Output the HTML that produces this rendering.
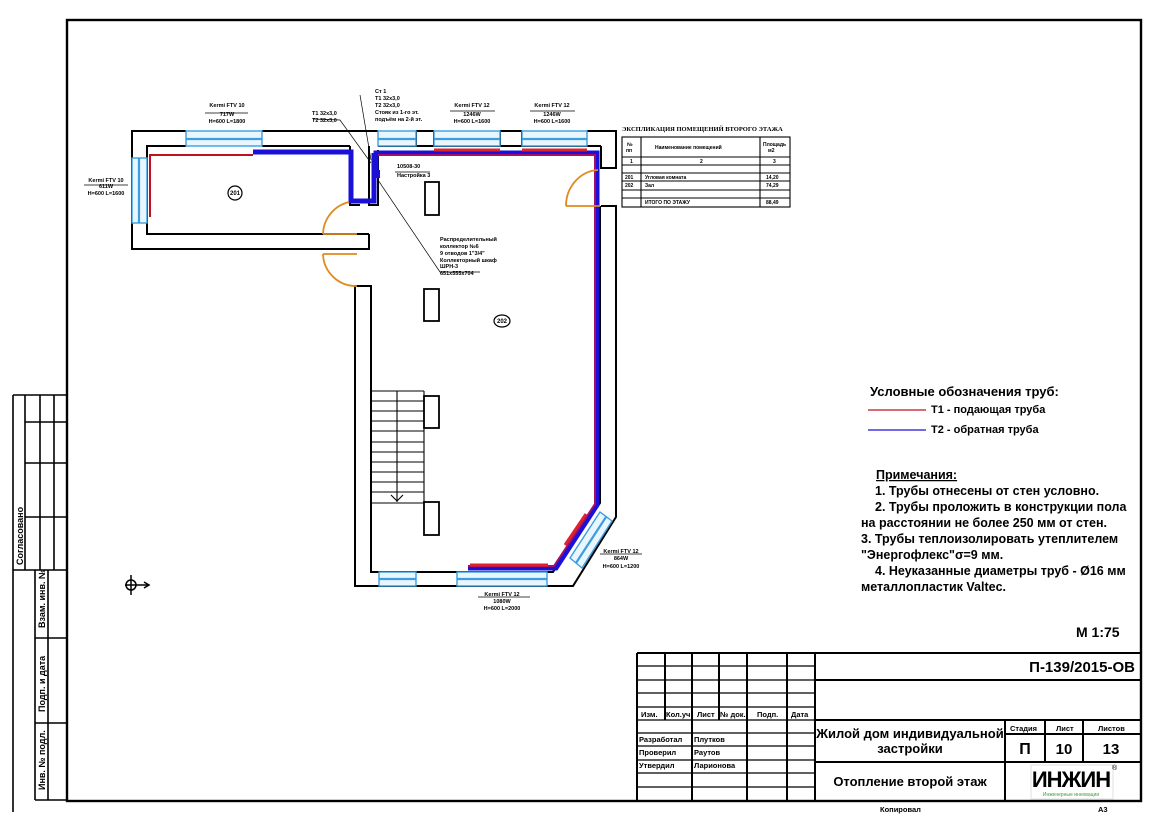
<!DOCTYPE html>
<html><head><meta charset="utf-8"><style>
html,body{margin:0;padding:0;background:#fff}
svg{display:block}
text{font-family:"Liberation Sans","Noto Sans CJK SC",sans-serif;fill:#000}
</style></head><body>
<svg width="1166" height="824" viewBox="0 0 1166 824" xmlns="http://www.w3.org/2000/svg">
<rect width="1166" height="824" fill="#fff"/>
<rect x="67" y="20" width="1074" height="781" fill="none" stroke="#000" stroke-width="2.4"/>
<g stroke="#000" stroke-width="1.6" fill="none">
<line x1="13" y1="395" x2="13" y2="812"/>
<line x1="13" y1="395" x2="67" y2="395"/>
<line x1="25" y1="395" x2="25" y2="570"/>
<line x1="40" y1="395" x2="40" y2="570"/>
<line x1="54" y1="395" x2="54" y2="570"/>
<line x1="25" y1="422" x2="67" y2="422"/>
<line x1="25" y1="463" x2="67" y2="463"/>
<line x1="25" y1="517" x2="67" y2="517"/>
<line x1="13" y1="570" x2="67" y2="570"/>
<line x1="35" y1="570" x2="35" y2="800"/>
<line x1="48" y1="570" x2="48" y2="800"/>
<line x1="35" y1="638" x2="67" y2="638"/>
<line x1="35" y1="723" x2="67" y2="723"/>
<line x1="35" y1="800" x2="67" y2="800"/>
</g>
<g font-size="9" font-weight="bold">
<text transform="translate(23,565) rotate(-90)">Согласовано</text>
<text transform="translate(45,628) rotate(-90)">Взам. инв. №</text>
<text transform="translate(45,712) rotate(-90)">Подп. и дата</text>
<text transform="translate(45,790) rotate(-90)">Инв. № подл.</text>
</g>

<g fill="none" stroke="#000" stroke-width="2">
<polyline points="186,131 132,131 132,249 357,249"/>
<polyline points="186,146 147,146 147,234 357,234"/>
<line x1="262" y1="131" x2="378" y2="131"/>
<line x1="262" y1="146" x2="350" y2="146"/>
<polyline points="350,146 350,205 360,205"/>
<line x1="357" y1="234" x2="369" y2="234"/>
<polyline points="357,249 369,249 369,234"/>
<polyline points="369,146 369,205 378,205 378,150"/>
<line x1="416" y1="131" x2="434" y2="131"/>
<line x1="500" y1="131" x2="522" y2="131"/>
<polyline points="587,131 616,131 616,168 600,168"/>
<line x1="378" y1="146" x2="601" y2="146"/>
<polyline points="601,146 601,168"/>
<line x1="416" y1="131" x2="416" y2="146"/><line x1="434" y1="131" x2="434" y2="146"/>
<line x1="500" y1="131" x2="500" y2="146"/><line x1="522" y1="131" x2="522" y2="146"/>
<polyline points="601,206 616,206 616,517 573,586 355,586 355,286 371,286 371,572 553,572 600,503 600,206"/>
</g>
<g fill="#eaf6fd" stroke="#3a9ee0" stroke-width="1.4">
<rect x="186" y="131" width="76" height="15"/>
<rect x="132" y="158" width="15" height="65"/>
<rect x="378" y="131" width="38" height="15"/>
<rect x="434" y="131" width="66" height="15"/>
<rect x="522" y="131" width="65" height="15"/>
<rect x="379" y="572" width="37" height="14"/>
<rect x="457" y="572" width="90" height="14"/>
<polygon points="570,558 600,512 612,521 582,568"/>
</g>
<g stroke="#3a9ee0" stroke-width="2.2">
<line x1="186" y1="139" x2="262" y2="139"/><line x1="139" y1="158" x2="139" y2="223"/>
<line x1="378" y1="139" x2="416" y2="139"/><line x1="434" y1="139" x2="500" y2="139"/>
<line x1="522" y1="139" x2="587" y2="139"/><line x1="379" y1="579" x2="416" y2="579"/>
<line x1="457" y1="579" x2="547" y2="579"/><line x1="576" y1="563" x2="606" y2="517"/>
</g>
<g fill="none" stroke-linejoin="miter">
<polyline points="253,152 351,152 351,201 374,201 374,153" stroke="#1a10d8" stroke-width="5"/>
<polyline points="150,217 150,155 253,155" stroke="#c01020" stroke-width="2"/>
<polyline points="376,175 376,153 597,153 597,505 556,568 468,568" stroke="#1a10d8" stroke-width="5"/>
<polyline points="378,155 595,155 595,504 554,566 468,566" stroke="#a0106a" stroke-width="2"/>
<g stroke="#e0202c" stroke-width="3">
<line x1="434" y1="150" x2="500" y2="150"/><line x1="522" y1="150" x2="587" y2="150"/>
<line x1="470" y1="565" x2="548" y2="565"/><line x1="565" y1="545" x2="586" y2="514"/>
</g>
<rect x="372" y="170" width="8" height="8" fill="#1a10d8"/>
</g>
<g fill="none" stroke="#e08a20" stroke-width="1.8">
<path d="M349,202 A34,34 0 0 0 323,234"/>
<line x1="323" y1="234" x2="357" y2="234"/>
<line x1="323" y1="254" x2="357" y2="254"/>
<path d="M323,254 A33,33 0 0 0 357,286"/>
<path d="M598,170 A34,36 0 0 0 566,206"/>
<line x1="566" y1="206" x2="600" y2="206"/>
</g>
<g fill="#fff" stroke="#000" stroke-width="1.8">
<rect x="425" y="182" width="14" height="33"/>
<rect x="424" y="289" width="15" height="32"/>
<rect x="424" y="396" width="15" height="32"/>
<rect x="424" y="502" width="15" height="33"/>
</g>
<g stroke="#000" stroke-width="1.1">
<line x1="371" y1="391" x2="424" y2="391"/><line x1="371" y1="401" x2="424" y2="401"/>
<line x1="371" y1="411" x2="424" y2="411"/><line x1="371" y1="421" x2="424" y2="421"/>
<line x1="371" y1="431" x2="424" y2="431"/><line x1="371" y1="442" x2="424" y2="442"/>
<line x1="371" y1="452" x2="424" y2="452"/><line x1="371" y1="462" x2="424" y2="462"/>
<line x1="371" y1="472" x2="424" y2="472"/><line x1="371" y1="482" x2="424" y2="482"/>
<line x1="371" y1="492" x2="424" y2="492"/><line x1="371" y1="503" x2="424" y2="503"/>
<line x1="397" y1="391" x2="397" y2="502"/><line x1="424" y1="391" x2="424" y2="503"/>
<polyline points="391,495 397,501 403,495" fill="none"/>
</g>
<g fill="#fff" stroke="#000" stroke-width="1.2"><circle cx="235" cy="193" r="7"/><ellipse cx="502" cy="321" rx="8" ry="6"/></g>
<g font-size="6" text-anchor="middle" font-weight="bold"><text x="235" y="195">201</text><text x="502" y="323">202</text></g>
<g stroke="#000" stroke-width="0.7" fill="none">
<polyline points="313,119 340,120 371,163"/><polyline points="360,95 371,160"/>
<polyline points="378,180 440,272 480,272"/>
<line x1="395" y1="172" x2="430" y2="172"/>
<line x1="205" y1="113" x2="248" y2="113"/><line x1="84" y1="185" x2="128" y2="185"/>
<line x1="450" y1="111" x2="495" y2="111"/><line x1="530" y1="111" x2="575" y2="111"/>
<line x1="478" y1="597" x2="530" y2="597"/><line x1="600" y1="554" x2="642" y2="554"/>
</g>
<g font-size="5.5" font-weight="bold" text-anchor="middle">
<text x="227" y="107">Kermi FTV 10</text><text x="227" y="116">717W</text><text x="227" y="123">H=600 L=1800</text>
<text x="106" y="182">Kermi FTV 10</text><text x="106" y="188">611W</text><text x="106" y="195">H=600 L=1600</text>
<text x="472" y="107">Kermi FTV 12</text><text x="472" y="116">1246W</text><text x="472" y="123">H=600 L=1600</text>
<text x="552" y="107">Kermi FTV 12</text><text x="552" y="116">1246W</text><text x="552" y="123">H=600 L=1600</text>
<text x="502" y="596">Kermi FTV 12</text><text x="502" y="603">1080W</text><text x="502" y="610">H=600 L=2000</text>
<text x="621" y="553">Kermi FTV 12</text><text x="621" y="560">864W</text><text x="621" y="568">H=600 L=1200</text>
</g>
<g font-size="5.5" font-weight="bold">
<text x="312" y="115">Т1 32х3,0</text><text x="312" y="122">Т2 32х3,0</text>
<text x="375" y="93">Ст 1</text><text x="375" y="100">Т1 32х3,0</text><text x="375" y="107">Т2 32х3,0</text>
<text x="375" y="114">Стояк из 1-го эт.</text><text x="375" y="121">подъём на 2-й эт.</text>
<text x="397" y="168">10508-30</text><text x="397" y="177">Настройка 3</text>
<text x="440" y="241">Распределительный</text><text x="440" y="248">коллектор №6</text>
<text x="440" y="255">9 отводов 1"3/4"</text><text x="440" y="262">Коллекторный шкаф</text>
<text x="440" y="268">ШРН-3</text><text x="440" y="275">651х555х704</text>
</g>
<g stroke="#000" stroke-width="1.5" fill="none"><circle cx="131" cy="585" r="5"/><line x1="131" y1="575" x2="131" y2="595"/><line x1="125" y1="585" x2="149" y2="585"/><polyline points="144,582 149,585 144,588"/></g>

<text x="622" y="131" font-size="6.5" font-weight="bold" style="font-family:'Liberation Serif',serif">ЭКСПЛИКАЦИЯ ПОМЕЩЕНИЙ ВТОРОГО ЭТАЖА</text>
<g stroke="#000" stroke-width="1.1" fill="none">
<rect x="622" y="137" width="168" height="70"/>
<line x1="622" y1="157" x2="790" y2="157"/><line x1="622" y1="165" x2="790" y2="165"/>
<line x1="622" y1="173" x2="790" y2="173"/><line x1="622" y1="181" x2="790" y2="181"/>
<line x1="622" y1="190" x2="790" y2="190"/><line x1="622" y1="198" x2="790" y2="198"/>
<line x1="641" y1="137" x2="641" y2="207"/><line x1="760" y1="137" x2="760" y2="207"/>
</g>
<g font-size="5" font-weight="bold" style="font-family:'Liberation Serif',serif">
<text x="627" y="146">№</text><text x="626" y="152">пп</text><text x="655" y="149">Наименование помещений</text>
<text x="763" y="146">Площадь</text><text x="768" y="152">м2</text>
<text x="630" y="163">1</text><text x="700" y="163">2</text><text x="773" y="163">3</text>
<text x="625" y="179">201</text><text x="645" y="179">Угловая комната</text><text x="766" y="179">14,20</text>
<text x="625" y="187">202</text><text x="645" y="187">Зал</text><text x="766" y="187">74,29</text>
<text x="645" y="204">ИТОГО ПО ЭТАЖУ</text><text x="766" y="204">88,49</text>
</g>

<g font-size="12.5" style="font-weight:600">
<text x="870" y="396" font-size="13">Условные обозначения  труб:</text>
<text x="931" y="413" font-size="11">Т1 - подающая труба</text>
<text x="931" y="433" font-size="11">Т2 - обратная труба</text>
<text x="876" y="479" font-weight="bold" text-decoration="underline">Примечания:</text>
<text x="875" y="495">1. Трубы отнесены от стен условно.</text>
<text x="875" y="511">2. Трубы проложить в конструкции пола</text>
<text x="861" y="527">на расстоянии не более 250 мм от стен.</text>
<text x="861" y="543">3. Трубы теплоизолировать утеплителем</text>
<text x="861" y="559">"Энергофлекс"σ=9 мм.</text>
<text x="875" y="575">4. Неуказанные диаметры труб - Ø16 мм</text>
<text x="861" y="591">металлопластик Valtec.</text>
<text x="1076" y="637" font-size="14">М 1:75</text>
</g>
<line x1="868" y1="410" x2="926" y2="410" stroke="#c01020" stroke-width="1.3"/>
<line x1="868" y1="430" x2="926" y2="430" stroke="#1a10d8" stroke-width="1.3"/>

<g stroke="#000" stroke-width="2" fill="none">
<line x1="637" y1="653" x2="1140" y2="653"/>
<line x1="637" y1="653" x2="637" y2="801"/>
<line x1="815" y1="653" x2="815" y2="801"/>
<line x1="815" y1="680" x2="1140" y2="680"/>
<line x1="815" y1="720" x2="1140" y2="720"/>
<line x1="815" y1="762" x2="1140" y2="762"/>
<line x1="1005" y1="720" x2="1005" y2="801"/>
<line x1="1045" y1="720" x2="1045" y2="762"/>
<line x1="1083" y1="720" x2="1083" y2="762"/>
<line x1="1005" y1="734" x2="1140" y2="734"/>
<line x1="665" y1="653" x2="665" y2="720"/><line x1="692" y1="653" x2="692" y2="801"/>
<line x1="719" y1="653" x2="719" y2="720"/><line x1="747" y1="653" x2="747" y2="801"/>
<line x1="787" y1="653" x2="787" y2="801"/>
</g>
<g stroke="#000" stroke-width="1.2" fill="none">
<line x1="637" y1="666" x2="815" y2="666"/><line x1="637" y1="680" x2="815" y2="680"/>
<line x1="637" y1="693" x2="815" y2="693"/><line x1="637" y1="707" x2="815" y2="707"/>
<line x1="637" y1="720" x2="815" y2="720"/><line x1="637" y1="733" x2="815" y2="733"/>
<line x1="637" y1="746" x2="815" y2="746"/><line x1="637" y1="760" x2="815" y2="760"/>
<line x1="637" y1="773" x2="815" y2="773"/><line x1="637" y1="787" x2="815" y2="787"/>
</g>
<g font-size="7.5" font-weight="bold">
<text x="641" y="717">Изм.</text><text x="666" y="717">Кол.уч</text><text x="697" y="717">Лист</text><text x="720" y="717">№ док.</text><text x="757" y="717">Подп.</text><text x="791" y="717">Дата</text>
<text x="639" y="742">Разработал</text><text x="694" y="742">Плутков</text>
<text x="639" y="755">Проверил</text><text x="694" y="755">Раутов</text>
<text x="639" y="768">Утвердил</text><text x="694" y="768">Ларионова</text>
<text x="1010" y="731">Стадия</text><text x="1056" y="731">Лист</text><text x="1098" y="731">Листов</text>
<text x="880" y="812">Копировал</text><text x="1098" y="812">А3</text>
</g>
<g style="font-weight:600">
<text x="1135" y="672" font-size="15" text-anchor="end">П-139/2015-ОВ</text>
<text x="910" y="738" font-size="13" text-anchor="middle">Жилой дом индивидуальной</text>
<text x="910" y="753" font-size="13" text-anchor="middle">застройки</text>
<text x="910" y="786" font-size="13" text-anchor="middle">Отопление второй этаж</text>
<text x="1025" y="754" font-size="16" text-anchor="middle">П</text>
<text x="1064" y="754" font-size="15" text-anchor="middle">10</text>
<text x="1111" y="754" font-size="15" text-anchor="middle">13</text>
</g>
<rect x="1031" y="765" width="82" height="34" fill="#fff" stroke="#ccc" stroke-width="0.6"/>
<text x="1071" y="787" font-size="22" font-weight="bold" text-anchor="middle" letter-spacing="-1">ИНЖИН</text>
<text x="1071" y="796" font-size="5" text-anchor="middle" style="fill:#3aa040">Инженерные инновации</text>
<text x="1112" y="770" font-size="7">®</text>
</svg>
</body></html>
